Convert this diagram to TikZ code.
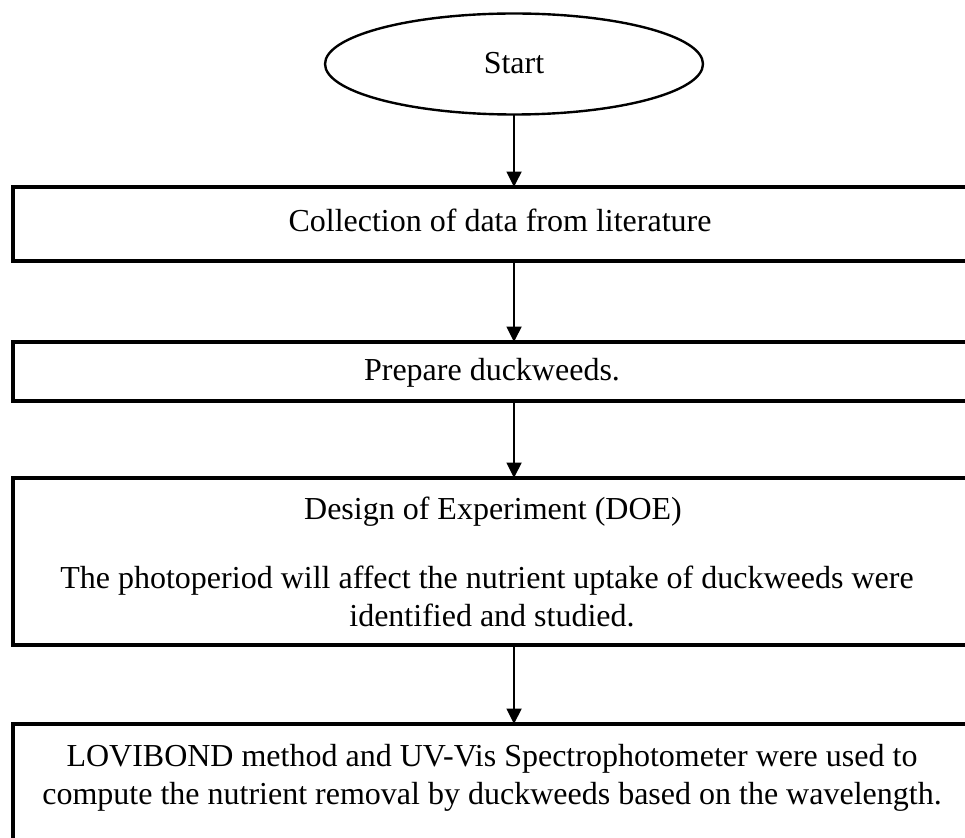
\documentclass[tikz,border=0pt]{standalone}
\usepackage{fontspec}
\setmainfont{Liberation Serif}
\usetikzlibrary{shapes.geometric,arrows.meta}
\begin{document}
\begin{tikzpicture}[x=0.375pt,y=-0.375pt,
  stepbox/.style={draw,rectangle,line width=1.2pt,inner sep=0pt,outer sep=0pt},
  startshape/.style={draw,ellipse,line width=0.9pt,inner sep=0pt,outer sep=0pt,
    minimum width=378*0.375pt,minimum height=101*0.375pt},
  label/.style={anchor=base,font=\fontsize{12pt}{13.8pt}\selectfont,inner sep=0pt},
  flow/.style={line width=0.75pt,-{Triangle[length=5.8pt,width=5.6pt]}}]
\useasboundingbox (0,0) rectangle (965,837);
\clip (0,0) rectangle (965,837);

% start terminal
\node[startshape] (start) at (514,64) {};
\node[label] (tstart) at (514,74) {Start};

% process boxes (they run past the right margin)
\node[stepbox,minimum width=957*0.375pt,minimum height=74*0.375pt] (box1) at (491.5,224) {};
\node[stepbox,minimum width=957*0.375pt,minimum height=59*0.375pt] (box2) at (491.5,371.5) {};
\node[stepbox,minimum width=957*0.375pt,minimum height=167*0.375pt] (box3) at (491.5,561.5) {};
\node[stepbox,minimum width=957*0.375pt,minimum height=136*0.375pt] (box4) at (491.5,792) {};

% box texts
\node[label] (t1) at (500,232) {Collection of data from literature};
\node[label] (t2) at (492,380) {Prepare duckweeds.};
\node[label] (t3a) at (493,519) {Design of Experiment (DOE)};
\node[label] (t3b) at (487,588) {The photoperiod will affect the nutrient uptake of duckweeds were};
\node[label] (t3c) at (492,626) {identified and studied.};
\node[label] (t4a) at (492,766) {LOVIBOND method and UV-Vis Spectrophotometer were used to};
\node[label] (t4b) at (492,804) {compute the nutrient removal by duckweeds based on the wavelength.};

% connectors
\draw[flow] (start.south) -- (start.south |- box1.north);
\draw[flow] (start.south |- box1.south) -- (start.south |- box2.north);
\draw[flow] (start.south |- box2.south) -- (start.south |- box3.north);
\draw[flow] (start.south |- box3.south) -- (start.south |- box4.north);
\end{tikzpicture}
\end{document}
